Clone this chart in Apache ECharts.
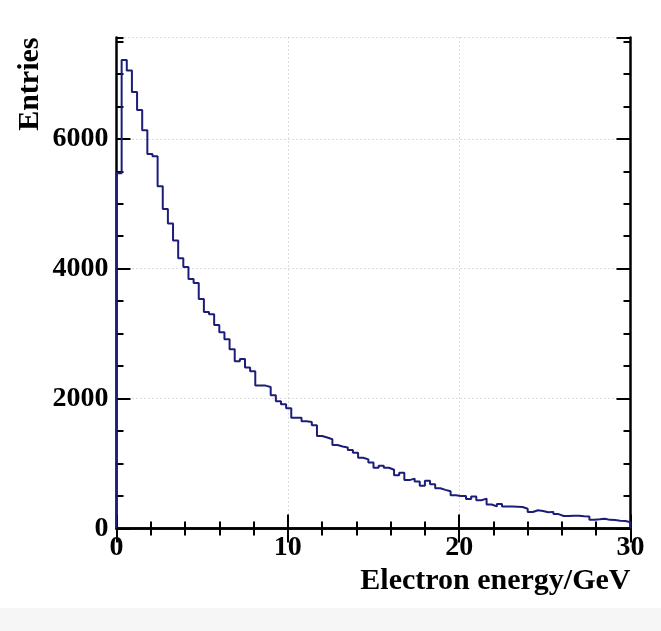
<!DOCTYPE html>
<html><head><meta charset="utf-8">
<script src="https://cdn.jsdelivr.net/npm/echarts@6/dist/echarts.min.js"></script>
<style>html,body{margin:0;padding:0;background:#fff}#c{width:661px;height:631px}</style>
</head><body><div id="c"></div>
<script>
// ---- data ----
const xMin = 0, xMax = 30;
const binWidth = 0.3;            // GeV per bin (100 bins)
const counts = [
  5470, 7215, 7050, 6720, 6445, 6130, 5765, 5730, 5270, 4920,
  4695, 4435, 4160, 4025, 3840, 3780, 3535, 3335, 3300, 3135,
  3020, 2915, 2760, 2575, 2610, 2480, 2420, 2200, 2200, 2180,
  2050, 1960, 1915, 1850, 1705, 1705, 1650, 1640, 1590, 1425,
  1400, 1375, 1285, 1262, 1246, 1210, 1165, 1090, 1065, 1018,
  935, 966, 935, 905, 818, 858, 745, 768, 722, 660,
  736, 680, 620, 595, 574, 513, 502, 502, 453, 492,
  436, 460, 370, 340, 377, 340, 340, 335, 330, 305,
  253, 280, 270, 250, 256, 222, 192, 192, 198, 198,
  190, 185, 136, 141, 151, 133, 130, 120, 115, 95
];
const yMin = 0, yMax = 7560;
const xTickLabels = [0, 10, 20, 30];
const yTickLabels = [0, 2000, 4000, 6000];
const xTitle = 'Electron energy/GeV';
const yTitle = 'Entries';

// ---- build histogram outline (bin left edges + counts) ----
const lineData = [[xMin, 0]];
counts.forEach((c, i) => lineData.push([+(xMin + i * binWidth).toFixed(4), c]));
lineData.push([xMax, counts[counts.length - 1]]);
lineData.push([xMax, 0]);

const FONT = 'Liberation Serif';
const black = '#000';
const frameLine = { show: true, lineStyle: { color: black, width: 2.5 } };
const majorTick = { show: true, inside: true, length: 14, lineStyle: { color: black, width: 2 } };
const minorTickAxis = { show: true, inside: true, length: 7, lineStyle: { color: black, width: 2 } };
const gridDots = { show: true, lineStyle: { type: [1, 3], color: '#b8b8b8', width: 1 } };
const grid = { left: 116.5, right: 30.5, top: 37.5, bottom: 102.5 };

const chart = echarts.init(document.getElementById('c'), null, { renderer: 'canvas' });
chart.setOption({
  animation: false,
  backgroundColor: '#fff',
  grid: grid,
  xAxis: [
    {
      type: 'value', min: xMin, max: xMax, interval: 10, position: 'bottom',
      axisLine: frameLine, axisTick: majorTick,
      minorTick: { show: true, splitNumber: 5, length: 7, lineStyle: { color: black, width: 2 } },
      splitLine: gridDots,
      axisLabel: {
        margin: 5, color: black, fontFamily: FONT, fontWeight: 'bold', fontSize: 28,
        formatter: v => xTickLabels.includes(v) ? String(v) : ''
      },
      name: xTitle, nameLocation: 'end', nameGap: 0,
      nameTextStyle: { color: black, fontFamily: FONT, fontWeight: 'bold', fontSize: 30,
        align: 'right', verticalAlign: 'top', padding: [38, 0, 0, 0] }
    },
    {
      type: 'value', min: xMin, max: xMax, interval: 10, position: 'top',
      axisLine: frameLine, axisTick: majorTick,
      minorTick: { show: true, splitNumber: 5, length: 7, lineStyle: { color: black, width: 2 } },
      splitLine: { show: false }, axisLabel: { show: false }
    }
  ],
  yAxis: [
    {
      type: 'value', min: yMin, max: yMax, interval: 2000, position: 'left',
      axisLine: frameLine, axisTick: majorTick,
      splitLine: gridDots,
      axisLabel: {
        margin: 8, color: black, fontFamily: FONT, fontWeight: 'bold', fontSize: 28,
        showMaxLabel: false,
        formatter: v => yTickLabels.includes(v) ? String(v) : ''
      },
      name: yTitle, nameLocation: 'end', nameGap: 0, nameRotate: 90,
      nameTextStyle: { color: black, fontFamily: FONT, fontWeight: 'bold', fontSize: 30,
        align: 'right', verticalAlign: 'bottom', padding: [0, 0, 71, 0] }
    },
    {
      type: 'value', min: yMin, max: yMax, interval: 500, position: 'left',
      axisLine: { show: false }, axisTick: minorTickAxis,
      splitLine: { show: false }, axisLabel: { show: false }
    },
    {
      type: 'value', min: yMin, max: yMax, interval: 2000, position: 'right',
      axisLine: frameLine, axisTick: majorTick,
      splitLine: { show: false }, axisLabel: { show: false }
    },
    {
      type: 'value', min: yMin, max: yMax, interval: 500, position: 'right',
      axisLine: { show: false }, axisTick: minorTickAxis,
      splitLine: { show: false }, axisLabel: { show: false }
    }
  ],
  graphic: [
    { type: 'rect', left: 0, top: 608, shape: { width: 661, height: 23 }, style: { fill: '#f6f6f6' }, silent: true, z: -10 }
  ],
  series: [
    {
      type: 'line', xAxisIndex: 0, yAxisIndex: 0, step: 'end', symbol: 'none',
      data: lineData,
      lineStyle: { color: '#1c1c7a', width: 2 },
      z: 3
    }
  ]
});
</script>
</body></html>
